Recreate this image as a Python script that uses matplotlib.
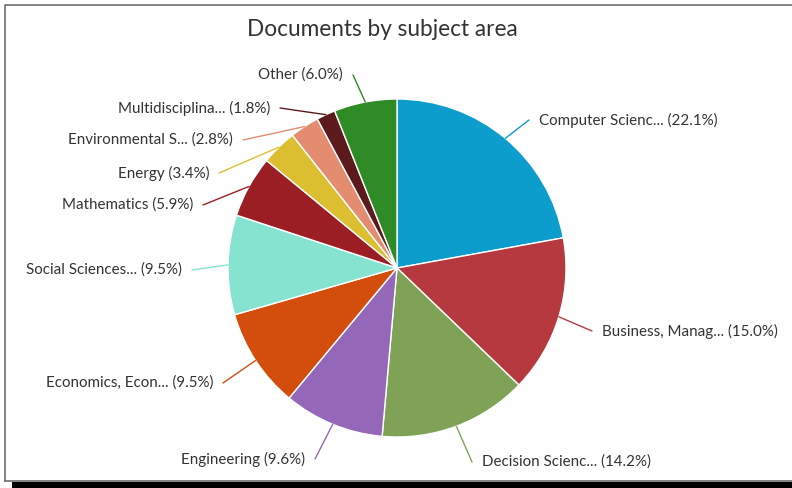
import numpy as np
import matplotlib
matplotlib.use("Agg")
import matplotlib.pyplot as plt
from matplotlib.patches import Rectangle

plt.rcParams['font.family'] = ['Lato', 'DejaVu Sans']

labels = ["Computer Scienc...", "Business, Manag...", "Decision Scienc...", "Engineering",
          "Economics, Econ...", "Social Sciences...", "Mathematics", "Energy",
          "Environmental S...", "Multidisciplina...", "Other"]
values = [22.1, 15.0, 14.2, 9.6, 9.5, 9.5, 5.9, 3.4, 2.8, 1.8, 6.0]
colors = ["#0d9dcc", "#b6393f", "#7fa257", "#9467b8", "#d34d0d", "#86e3d0",
          "#9c1e25", "#dcbf30", "#e48c70", "#5d1a1d", "#2e8b26"]

# label layout (image pixel coords): anchor x, centre y, side
label_pos = [(539, 120, 1), (602, 331, 1), (482, 462, 1), (305, 459, -1),
             (213, 383, -1), (182, 270, -1), (193, 205, -1), (209, 173, -1),
             (233, 140, -1), (270, 108, -1), (343, 75, -1)]

W, H = 792, 488
fig = plt.figure(figsize=(W / 100, H / 100), dpi=100)
ax = fig.add_axes([0, 0, 1, 1])

cx, cy_img, R = 397, 268, 169
cy = H - cy_img

wedges, _ = ax.pie(values, colors=colors, startangle=90, counterclock=False,
                   center=(cx, cy), radius=R,
                   wedgeprops=dict(edgecolor='white', linewidth=1.0))

ax.set_xlim(0, W)
ax.set_ylim(0, H)
ax.set_aspect('equal')
ax.axis('off')

total = sum(values)
cum = 0.0
for lab, v, col, (lx, ly, side) in zip(labels, values, colors, label_pos):
    mid = (cum + v / 2) / total * 2 * np.pi
    cum += v
    sx = cx + R * np.sin(mid)
    sy = cy + R * np.cos(mid)
    ex = lx - side * 10
    ey = H - ly
    ax.plot([sx, ex], [sy, ey], color=col, lw=1.0, solid_capstyle='round', zorder=1)
    ax.text(lx, H - ly, f"{lab} ({v:.1f}%)", ha='left' if side > 0 else 'right',
            va='center', fontsize=10.9, color='#333333')

ax.text(382, H - 30, "Documents by subject area", ha='center', va='center',
        fontsize=16.3, color='#333333')

# frame and shadow
ax.plot([5, 5, W + 5], [H - 481, H - 5, H - 5], color='#707070', lw=1.2, clip_on=False)
ax.plot([5, W + 5], [H - 481, H - 481], color='#707070', lw=1.2, clip_on=False)
ax.add_patch(Rectangle((12, 0), W, H - 482, color='black', lw=0, clip_on=False))

fig.savefig("out.png", dpi=100)
